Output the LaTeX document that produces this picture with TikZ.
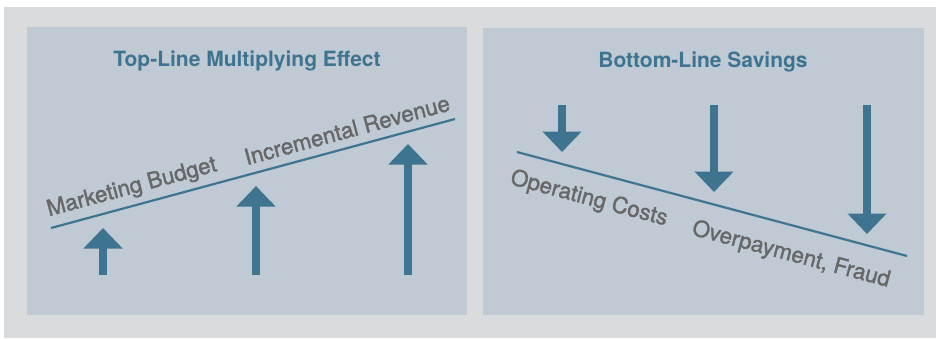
\documentclass[tikz,border=0pt]{standalone}
\usepackage{fontspec}
\setmainfont{TeX Gyre Heros}
\newfontface\lblface{TeX Gyre Heros}[FakeBold=1.4]
\usepackage{tikz}
\usetikzlibrary{positioning}
\usetikzlibrary{arrows.meta}

\definecolor{framegray}{HTML}{D9DBDD}
\definecolor{panelgray}{HTML}{BFCAD4}
\definecolor{effblue}{HTML}{3F7490}
\definecolor{lblgray}{HTML}{676767}

\begin{document}
\begin{tikzpicture}[x=1pt,y=-1pt,
  panel/.style={fill=panelgray,draw=none},
  trend/.style={draw=effblue,line width=2.2pt},
  bigarrow/.style={draw=effblue,line width=8.5pt,-{Triangle[length=20.5pt,width=38pt]},fill=effblue},
  heading/.style={text=effblue,font=\fontsize{21}{25}\selectfont\bfseries},
  lbl/.style={text=lblgray,font=\fontsize{22.4}{26}\lblface,inner sep=0pt}]
\useasboundingbox (0,0) rectangle (936,338);
\fill[framegray] (4,7) rectangle (936,338);
\fill[panel] (27,27) rectangle (467,315);
\fill[panel] (483,28) rectangle (924,315);

% top line
\node[heading] (top) at (247,61) {Top-Line Multiplying Effect};
\coordinate (ta) at (51,228);
\coordinate (tb) at (455,119);
\draw[trend] (ta) -- (tb);
\node[lbl,rotate=15.1] (budget) at (132,188) {Marketing Budget};
\node[lbl,rotate=15.1] (revenue) at (347,130) {Incremental Revenue};
\coordinate (u1) at (103,275);
\coordinate (u1t) at (103,228);
\coordinate (u2) at (256,275);
\coordinate (u2t) at (256,186);
\coordinate (u3) at (408,275);
\coordinate (u3t) at (408,144);
\draw[bigarrow] (u1) -- (u1t);
\draw[bigarrow] (u2) -- (u2t);
\draw[bigarrow] (u3) -- (u3t);

% bottom line
\node[heading] (bottom) at (703,62) {Bottom-Line Savings};
\coordinate (ba) at (517,152);
\coordinate (bb) at (907,256);
\draw[trend] (ba) -- (bb);
\node[lbl,rotate=-14.9] (costs) at (589,199) {Operating Costs};
\node[lbl,rotate=-14.9] (fraud) at (791,255) {Overpayment, Fraud};
\coordinate (d1) at (562,105);
\coordinate (d1t) at (562,152);
\coordinate (d2) at (714,105);
\coordinate (d2t) at (714,192);
\coordinate (d3) at (867,105);
\coordinate (d3t) at (867,234);
\draw[bigarrow] (d1) -- (d1t);
\draw[bigarrow] (d2) -- (d2t);
\draw[bigarrow] (d3) -- (d3t);
\end{tikzpicture}
\end{document}
